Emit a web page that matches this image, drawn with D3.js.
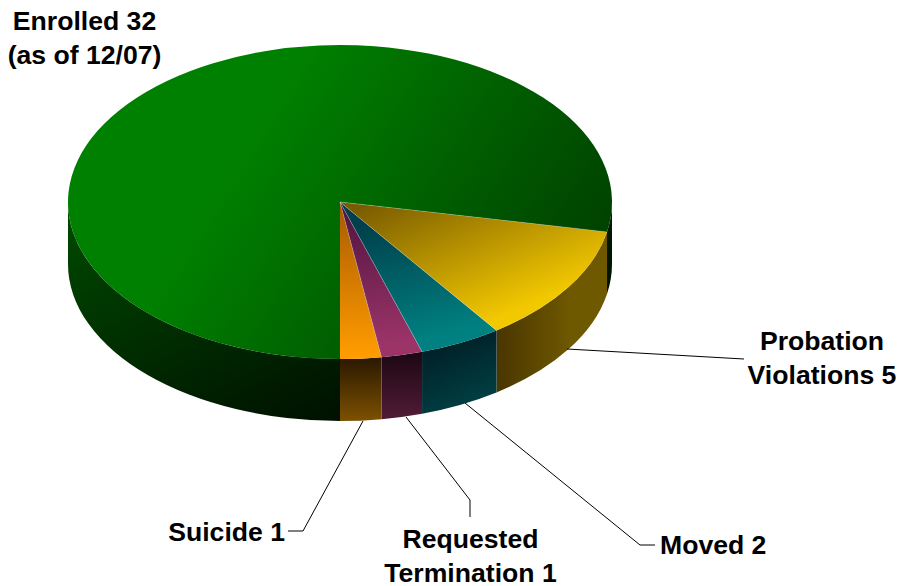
<!DOCTYPE html>
<html>
<head>
<meta charset="utf-8">
<style>
  html, body { margin: 0; padding: 0; background: #fff; }
  text { font-family: "Liberation Sans", Arial, sans-serif; font-weight: bold; font-size: 26.6px; fill: #000; }
</style>
<script src="https://cdnjs.cloudflare.com/ajax/libs/d3/7.8.5/d3.min.js"></script>
</head>
<body>
<div id="chart"></div>
<script>
// slices, counter-clockwise from 6 o'clock
var names = ['Suicide', 'Requested Termination', 'Moved', 'Probation Violations', 'Enrolled'];
var values = [1, 1, 2, 5, 32];
var topStops = [['#a85a00', '#ff9c00'], ['#4e1440', '#9c3468'], ['#00404c', '#008080'], ['#7a5c00', '#f2c800'], ['#008000', '#003100']];
var wallStops = [['#2a1800', '#7c5000'], ['#1e0814', '#4e1a34'], ['#001c22', '#003f44'], ['#4a3600', '#6e5800'], ['#004600', '#001000']];
// gradient ends in page pixels
var topAxis = [[340, 205, 340, 355], [345, 205, 385, 345], [360, 225, 440, 335], [400, 190, 540, 300], [300, 60, 765, 158]];
var wallAxis = [[360, 358, 360, 420], [400, 355, 400, 415], [425, 340, 495, 395], [497, 350, 570, 350], [70, 230, 345, 420]];
var labels = [
  { lines: ['Enrolled 32', '(as of 12/07)'], x: 84.5, y: 30, anchor: 'middle' },
  { lines: ['Probation', 'Violations 5'], x: 822, y: 350, anchor: 'middle' },
  { lines: ['Requested', 'Termination 1'], x: 470.5, y: 548, anchor: 'middle' },
  { lines: ['Suicide 1'], x: 285, y: 541, anchor: 'end' },
  { lines: ['Moved 2'], x: 660, y: 554, anchor: 'start' }
];
var leaders = [
  [[363, 421], [303, 531], [288, 531]],
  [[406, 417], [470, 500], [470, 517]],
  [[465, 403], [640, 545], [655, 545]],
  [[567, 349], [744, 359]]
];

var width = 899, height = 586;
var cx = 340, cy = 202, rx = 272, ry = 157, depth = 62;
var k = ry / rx;
var wallDepth = depth / k;

var svg = d3.select('#chart').append('svg')
  .attr('width', width)
  .attr('height', height)
  .style('display', 'block');
var defs = svg.append('defs');

function gradient(id, stops, axis) {
  var g = defs.append('linearGradient')
    .attr('id', id)
    .attr('gradientUnits', 'userSpaceOnUse')
    .attr('x1', axis[0] - cx).attr('y1', (axis[1] - cy) / k)
    .attr('x2', axis[2] - cx).attr('y2', (axis[3] - cy) / k);
  g.append('stop').attr('offset', 0).attr('stop-color', stops[0]);
  g.append('stop').attr('offset', 1).attr('stop-color', stops[1]);
}
names.forEach(function(n, i) {
  gradient('top' + i, topStops[i], topAxis[i]);
  gradient('wall' + i, wallStops[i], wallAxis[i]);
});

// pie runs counter-clockwise from the bottom
var pie = d3.pie().sort(null).startAngle(Math.PI).endAngle(-Math.PI);
var slices = pie(values);
var arc = d3.arc().innerRadius(0).outerRadius(rx);

var g = svg.append('g')
  .attr('transform', 'translate(' + cx + ',' + cy + ') scale(1,' + k + ')');

// only the part of a slice on the front of the disc has a wall
function wallPath(lo, hi) {
  var p = d3.path();
  p.arc(0, 0, rx, lo - Math.PI / 2, hi - Math.PI / 2, false);
  p.arc(0, wallDepth, rx, hi - Math.PI / 2, lo - Math.PI / 2, true);
  p.closePath();
  return p.toString();
}
function frontRanges(d) {
  var lo = Math.min(d.startAngle, d.endAngle), hi = Math.max(d.startAngle, d.endAngle);
  var out = [];
  [[Math.PI / 2, 3 * Math.PI / 2], [-3 * Math.PI / 2, -Math.PI / 2]].forEach(function(f) {
    var a = Math.max(lo, f[0]), b = Math.min(hi, f[1]);
    if (b > a) out.push([a, b]);
  });
  return out;
}

// walls, green first so the others sit over it
slices.slice().reverse().forEach(function(d) {
  frontRanges(d).forEach(function(r) {
    g.append('path')
      .attr('d', wallPath(r[0], r[1]))
      .attr('fill', 'url(#wall' + d.index + ')');
  });
});

g.selectAll('.slice')
  .data(slices)
  .enter().append('path')
  .attr('class', 'slice')
  .attr('d', arc)
  .attr('fill', function(d) { return 'url(#top' + d.index + ')'; });

// thin light spokes between slices
g.selectAll('.spoke')
  .data(slices.slice(0, 4))
  .enter().append('line')
  .attr('class', 'spoke')
  .attr('x1', 0).attr('y1', 0)
  .attr('x2', function(d) { return d3.pointRadial(d.endAngle, rx)[0]; })
  .attr('y2', function(d) { return d3.pointRadial(d.endAngle, rx)[1]; })
  .attr('stroke', '#fff')
  .attr('stroke-opacity', 0.3)
  .attr('stroke-width', 0.8)
  .attr('vector-effect', 'non-scaling-stroke');

var line = d3.line();
svg.selectAll('.leader')
  .data(leaders)
  .enter().append('path')
  .attr('class', 'leader')
  .attr('d', line)
  .attr('fill', 'none')
  .attr('stroke', '#000')
  .attr('stroke-width', 1);

labels.forEach(function(l) {
  var t = svg.append('text').attr('text-anchor', l.anchor);
  l.lines.forEach(function(s, i) {
    t.append('tspan').attr('x', l.x).attr('y', l.y + i * 33.5).text(s);
  });
});
</script>
</body>
</html>
